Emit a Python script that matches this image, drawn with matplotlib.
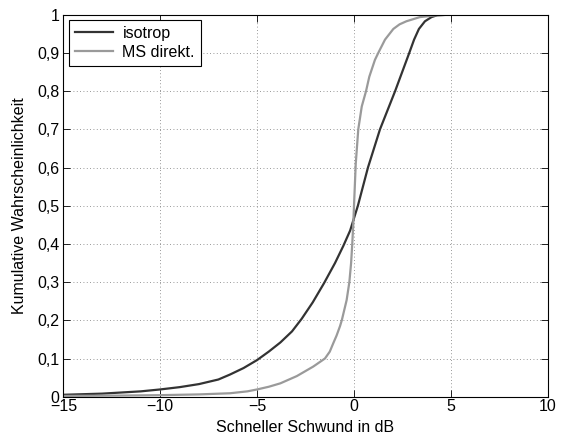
import matplotlib
matplotlib.use("Agg")
import matplotlib.pyplot as plt
from matplotlib.ticker import FixedLocator, FixedFormatter

plt.rcParams['font.family'] = ['Liberation Sans', 'DejaVu Sans']

# Cumulative distribution of fast fading (dB)
iso_x = [-15, -13, -11, -10, -9, -8, -7, -6.4, -5.7, -5, -4.4, -3.8, -3.2,
         -2.7, -2.13, -1.55, -0.98, -0.55, -0.2, 0.2, 0.72, 1.34, 2.12, 2.85,
         3.1, 3.35, 3.66, 4.0, 4.3, 4.8]
iso_y = [0.005, 0.008, 0.014, 0.019, 0.025, 0.033, 0.045, 0.058, 0.075, 0.096,
         0.118, 0.142, 0.171, 0.204, 0.247, 0.297, 0.35, 0.395, 0.435, 0.50,
         0.60, 0.70, 0.80, 0.90, 0.935, 0.963, 0.983, 0.994, 0.999, 1.0]

ms_x = [-15, -12, -10, -8, -6.4, -5.5, -5, -4.4, -3.8, -2.95, -2.1, -1.5,
        -1.25, -1.07, -0.9, -0.72, -0.63, -0.38, -0.24, -0.15, -0.09, -0.04,
        0.0, 0.09, 0.22, 0.40, 0.62, 0.79, 1.08, 1.25, 1.6, 2.03, 2.35, 2.7,
        3.4, 4.1, 4.8, 5.4]
ms_y = [0.002, 0.003, 0.004, 0.006, 0.009, 0.014, 0.019, 0.026, 0.035, 0.054,
        0.079, 0.10, 0.118, 0.14, 0.16, 0.185, 0.20, 0.253, 0.30, 0.35, 0.40,
        0.45, 0.50, 0.61, 0.70, 0.76, 0.80, 0.838, 0.882, 0.90, 0.935, 0.963,
        0.975, 0.983, 0.994, 0.998, 1.0, 1.0]

x_ticks = [-15, -10, -5, 0, 5, 10]
x_labels = ["\u221215", "\u221210", "\u22125", "0", "5", "10"]
y_ticks = [0, 0.1, 0.2, 0.3, 0.4, 0.5, 0.6, 0.7, 0.8, 0.9, 1.0]
y_labels = ["0", "0,1", "0,2", "0,3", "0,4", "0,5", "0,6", "0,7", "0,8", "0,9", "1"]

fig = plt.figure(figsize=(5.62, 4.42), dpi=100)
ax = fig.add_axes([0.1127, 0.1025, 0.862, 0.864])

ax.plot(iso_x, iso_y, color='#333333', lw=1.6, label='isotrop')
ax.plot(ms_x, ms_y, color='#9a9a9a', lw=1.6, label='MS direkt.')

ax.set_xlim(-15, 10)
ax.set_ylim(0, 1)
ax.xaxis.set_major_locator(FixedLocator(x_ticks))
ax.xaxis.set_major_formatter(FixedFormatter(x_labels))
ax.yaxis.set_major_locator(FixedLocator(y_ticks))
ax.yaxis.set_major_formatter(FixedFormatter(y_labels))

ax.grid(True, linestyle=(0, (1, 3)), color='#777777', linewidth=0.6)
ax.tick_params(direction='in', length=5, width=0.6, top=True, right=True,
               labelsize=11.5, pad=3, colors='black')
ax.tick_params(axis='x', pad=2)
for s in ax.spines.values():
    s.set_linewidth(0.8)
    s.set_color('black')

ax.set_xlabel('Schneller Schwund in dB', fontsize=11.5, labelpad=4)
ax.set_ylabel('Kumulative Wahrscheinlichkeit', fontsize=11.5, labelpad=7)

leg = ax.legend(loc='upper left', fontsize=11.5, fancybox=False, framealpha=1,
                edgecolor='black', borderaxespad=0.35, handlelength=2.4,
                borderpad=0.35, labelspacing=0.25, handletextpad=0.6)
leg.get_frame().set_linewidth(0.8)

fig.savefig('out.png', dpi=100)
